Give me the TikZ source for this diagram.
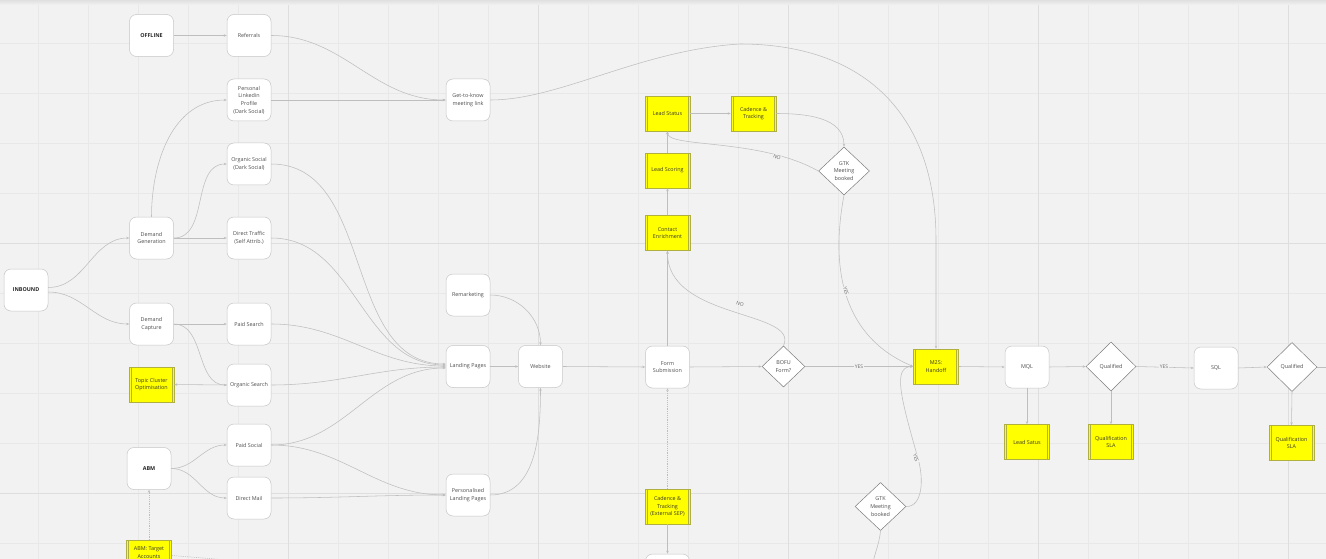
\documentclass[tikz,border=0pt]{standalone}
\usepackage{fontspec}
\setmainfont{Open Sans}
\usetikzlibrary{shapes.geometric,arrows.meta}
\definecolor{bgc}{HTML}{F2F2F2}
\definecolor{gridc}{HTML}{E8E8E8}
\definecolor{gridd}{HTML}{DEDEDE}
\definecolor{boxline}{HTML}{C6C6C6}
\definecolor{yel}{HTML}{FFFF00}
\definecolor{yline}{HTML}{B0B040}
\definecolor{dline}{HTML}{7C7C7C}
\definecolor{eline}{HTML}{BEBEBE}
\definecolor{txt}{HTML}{4E4E4E}
\definecolor{ytxt}{HTML}{3A3A2A}
\definecolor{labtxt}{HTML}{6A6A6A}
\newcommand\fsn{\fontsize{5.4}{7.6}\selectfont}
\newcommand\fsl{\fontsize{5}{6}\selectfont}
\begin{document}
\begin{tikzpicture}[x=1pt,y=-1pt,
  box/.style={draw=boxline,line width=0.5pt,fill=white,rounded corners=7pt,minimum width=44pt,minimum height=42pt,inner sep=1pt,align=center,text=txt,font=\fsn},
  bbox/.style={box,text=black!85,font=\fsn\bfseries},
  ybox/.style={draw=yline,line width=0.5pt,fill=yel,minimum width=45pt,minimum height=35pt,inner sep=1pt,align=center,text=ytxt,font=\fsn,
    path picture={\draw[yline,line width=0.5pt] ([xshift=2pt]path picture bounding box.north west) -- ([xshift=2pt]path picture bounding box.south west);
                  \draw[yline,line width=0.5pt] ([xshift=-2pt]path picture bounding box.north east) -- ([xshift=-2pt]path picture bounding box.south east);}},
  dia/.style={diamond,draw=dline,line width=0.5pt,fill=white,inner sep=0pt,minimum width=51pt,minimum height=48pt,align=center,text=txt,font=\fsn},
  conn/.style={draw=eline,line width=0.55pt,-{Stealth[length=3pt,width=2.4pt]}},
  dconn/.style={conn,dash pattern=on 1.2pt off 1pt},
  lab/.style={font=\fsl,text=labtxt,fill=bgc,inner sep=0.6pt}]
\useasboundingbox (0,0) rectangle (1326,559);
\clip (0,0) rectangle (1326,559);
\fill[bgc] (0,0) rectangle (1326,559);
\foreach \x in {38,88,...,1288} \draw[gridc,line width=0.6pt] (\x,0) -- (\x,559);
\foreach \y in {43,93,...,543} \draw[gridc,line width=0.6pt] (0,\y) -- (1326,\y);
\foreach \x in {288,538,788,1038,1288} \draw[gridd,line width=0.7pt] (\x,0) -- (\x,559);
\foreach \y in {243,493} \draw[gridd,line width=0.7pt] (0,\y) -- (1326,\y);
\shade[top color=black!12,bottom color=bgc] (0,0) rectangle (1326,5);

% nodes
\node[bbox] (off) at (151.5,35.5) {OFFLINE};
\node[box] (ref) at (249,35.5) {Referrals};
\node[box] (pli) at (249,100) {Personal\\Linkedin\\Profile\\(Dark Social)};
\node[box] (osoc) at (249,164) {Organic Social\\(Dark Social)};
\node[box] (dg) at (151.5,238) {Demand\\Generation};
\node[box] (dt) at (249,238) {Direct Traffic\\(Self Attrib.)};
\node[bbox] (inb) at (26,290) {INBOUND};
\node[box] (dc) at (151.5,324) {Demand\\Capture};
\node[box] (ps) at (249,324) {Paid Search};
\node[ybox] (tco) at (151.5,384.5) {Topic Cluster\\Optimisation};
\node[box] (os) at (249,385) {Organic Search};
\node[box] (psoc) at (249,445) {Paid Social};
\node[bbox] (abm) at (149,468.5) {ABM};
\node[box] (dm) at (249,498) {Direct Mail};
\node[ybox,minimum height=25pt] (abmt) at (149,552.5) {ABM: Target\\Accounts};
\node[box] (gtkl) at (468,100) {Get-to-know\\meeting link};
\node[box] (rem) at (468,295) {Remarketing};
\node[box] (lp) at (468,366.5) {Landing Pages};
\node[box] (web) at (540.5,366.5) {Website};
\node[box] (plp) at (468,495) {Personalised\\Landing Pages};
\node[box] (form) at (667.5,367) {Form\\Submission};
\node[ybox] (ls) at (667.5,113.5) {Lead Status};
\node[ybox] (ct) at (753.5,113.5) {Cadence \&\\Tracking};
\node[ybox] (lsc) at (667.5,170.5) {Lead Scoring};
\node[ybox] (ce) at (667.5,233) {Contact\\Enrichment};
\node[dia] (gtk1) at (844,171) {GTK\\Meeting\\booked};
\node[dia,minimum width=43pt,minimum height=41pt] (bofu) at (783.5,366.5) {BOFU\\Form?};
\node[ybox] (m2s) at (936,366.5) {M2S:\\Handoff};
\node[dia] (gtk2) at (880.5,506.5) {GTK\\Meeting\\booked};
\node[ybox] (ctx) at (667.5,506.5) {Cadence \&\\Tracking\\(External SEP)};
\node[box] (bot) at (667.5,575) {};
\node[box] (mql) at (1027,367) {MQL};
\node[dia,minimum width=50pt,minimum height=49pt] (q1) at (1111,366.5) {Qualified};
\node[box] (sql) at (1216,368) {SQL};
\node[dia,minimum width=50pt,minimum height=49pt] (q2) at (1292,367) {Qualified};
\node[ybox] (lsat) at (1027,442) {Lead Satus};
\node[ybox] (qsla1) at (1111,442) {Qualification\\SLA};
\node[ybox] (qsla2) at (1291.5,443) {Qualification\\SLA};

\coordinate (abmtend) at (240,561);
\coordinate (gtk2end) at (872,570);
\coordinate (q2end) at (1330,367);

% connectors, left part
\draw[conn] (off.east) -- (ref.west);
\draw[conn] (ref.east) to[out=0,in=180] (gtkl.west);
\draw[conn] (pli.east) -- (gtkl.west);
\draw[conn] (dg.north) to[out=90,in=180] (pli.west);
\draw[conn] (dg.east) to[out=0,in=180] (osoc.west);
\draw[conn] (dg.east) -- (dt.west);
\draw[conn] ([yshift=2.5pt]inb.east) to[out=0,in=180] (dg.west);
\draw[conn] ([yshift=-2pt]inb.east) to[out=0,in=180] (dc.west);
\draw[conn] (dc.east) -- (ps.west);
\draw[conn] (dc.east) to[out=0,in=180] (os.west);
\draw[conn] (os.west) -- (tco.east);
\draw[conn] (abm.east) to[out=0,in=180] (psoc.west);
\draw[conn] (abm.east) to[out=0,in=180] (dm.west);
\draw[dconn] (abmt.north) -- (abm.south);
\draw[dconn,-] ([yshift=-3pt]abmt.east) -- (abmtend);

\draw[conn] (osoc.east) to[out=0,in=180] ([yshift=2.5pt]lp.west);
\draw[conn] (dt.east) to[out=0,in=180] ([yshift=1.5pt]lp.west);
\draw[conn] (ps.east) to[out=0,in=180] ([yshift=0.5pt]lp.west);
\draw[conn] (os.east) to[out=0,in=180] ([yshift=-0.5pt]lp.west);
\draw[conn] (psoc.east) to[out=0,in=180] ([yshift=-1.5pt]lp.west);
\draw[conn] (psoc.east) to[out=0,in=180] (plp.west);
\draw[conn] (dm.east) to[out=0,in=180] (plp.west);
\draw[conn] (rem.east) to[out=0,in=90] (web.north);
\draw[conn] (lp.east) -- (web.west);
\draw[conn] (plp.east) to[out=0,in=-90] (web.south);
\draw[conn] (web.east) -- (form.west);

% middle part
\draw[conn] (form.east) -- (bofu.west);
\draw[conn] (form.north) -- (ce.south);
\draw[conn] (bofu.north) .. controls (800,310) and (667,320) .. (ce.south);
\draw[conn] (ce.north) -- (lsc.south);
\draw[conn] (lsc.north) -- (ls.south);
\draw[conn] (ls.east) -- (ct.west);
\draw[conn] (ct.east) to[out=0,in=90] (gtk1.north);
\draw[conn] (gtk1.west) .. controls (760,138) and (667,148) .. (ls.south);
\draw[conn] (gtk1.south) .. controls (828,280) and (850,340) .. (m2s.west);
\draw[conn] (gtkl.east) .. controls (560,100) and (640,50) .. (740,44) .. controls (860,44) and (936,110) .. (936,240) -- (m2s.north);
\draw[conn] (bofu.east) -- (m2s.west);
\draw[conn] (gtk2.east) .. controls (922,507) and (925,480) .. (917,455) .. controls (900,395) and (893,367) .. (m2s.west);
\draw[conn,-] (gtk2.south) to[out=-95,in=85] (gtk2end);
\draw[dconn] (ctx.north) -- (form.south);
\draw[conn] (ctx.south) -- (bot.north);

% right part
\draw[conn] (m2s.east) -- (mql.west);
\draw[conn] (mql.south) -- (lsat.north);
\draw[conn] (mql.east) -- (q1.west);
\draw[conn] (q1.south) -- (qsla1.north);
\draw[conn] (q1.east) -- (sql.west);
\draw[conn] (sql.east) -- (q2.west);
\draw[conn] (q2.south) -- (qsla2.north);
\draw[conn,-] (q2.east) -- (q2end);

% edge labels
\node[lab,rotate=-20] (l1) at (740,304) {NO};
\node[lab,rotate=-25] (l2) at (777,157) {NO};
\node[lab,rotate=-75] (l3) at (846,291) {YES};
\node[lab] (l4) at (859,366.5) {YES};
\node[lab,rotate=-72] (l5) at (916,458) {YES};
\node[lab] (l6) at (1164,367) {YES};
\end{tikzpicture}
\end{document}
